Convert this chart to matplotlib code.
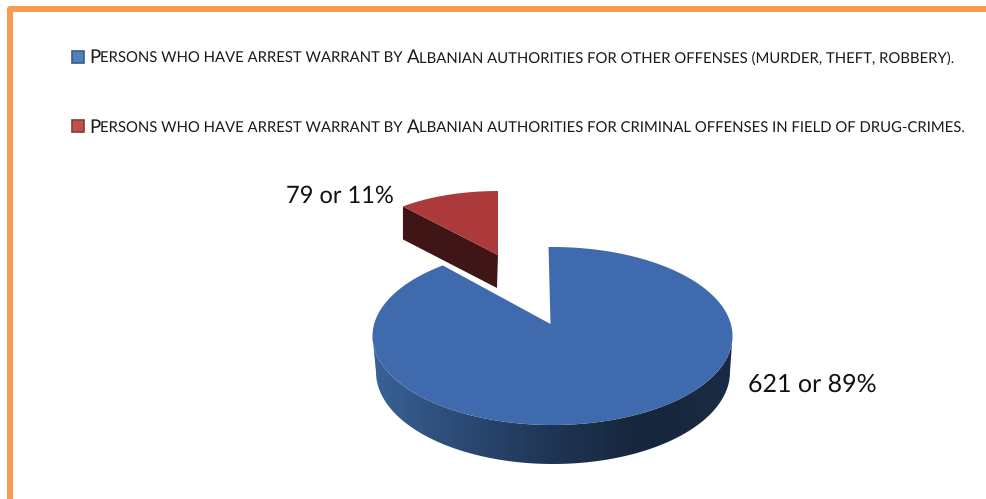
import numpy as np
import matplotlib
matplotlib.use('Agg')
import matplotlib.pyplot as plt
from matplotlib.colors import LinearSegmentedColormap
from matplotlib.patches import Polygon, Rectangle

# (text, is_big) runs fake the small caps of the legend
legend_blue = [('P', True), ('ERSONS WHO HAVE ARREST WARRANT BY ', False), ('A', True),
               ('LBANIAN AUTHORITIES FOR OTHER OFFENSES (MURDER, THEFT, ROBBERY).', False)]
legend_red = [('P', True), ('ERSONS WHO HAVE ARREST WARRANT BY ', False), ('A', True),
              ('LBANIAN AUTHORITIES FOR CRIMINAL OFFENSES IN FIELD OF DRUG-CRIMES.', False)]
values = [621, 79]
labels = ['621 or 89%', '79 or 11%']

plt.rcParams['font.family'] = ['Lato', 'DejaVu Sans']
plt.rcParams['text.hinting'] = 'none'

fig = plt.figure(figsize=(9.86, 4.99), dpi=100)
ax = fig.add_axes([0, 0, 1, 1])
ax.axis('off')

# angles clockwise from 12 o'clock
frac = np.array(values) / sum(values)
first = np.radians(-1.5)
blue_end = frac[0] * 2 * np.pi
blue_t = np.linspace(0, blue_end, 200) + first
blue_t = blue_t + np.radians(-4.6) * np.sin(2 * blue_t)  # 3d view bends the angles a bit
red_t = np.linspace(blue_end, 2 * np.pi, 40)


def arc(t, cx, cy, rx, ry):
    return np.column_stack([cx + rx * np.sin(t), cy - ry * np.cos(t)])


# blue side, gradient clipped to the band under the front edge
t_front = np.linspace(np.pi / 2, 3 * np.pi / 2, 120)
band = np.vstack([arc(t_front, 552.5, 336, 180, 89),
                  arc(t_front[::-1], 553, 372, 177, 92)])
side = Polygon(band, closed=True, fc='none', ec='none')
ax.add_patch(side)
cmap = LinearSegmentedColormap.from_list('side', ['#3a6296', '#2b4a75', '#1f3554', '#16263b', '#1a2c44'])
im = ax.imshow(np.linspace(0, 1, 256)[None, :], cmap=cmap, aspect='auto',
               extent=[372, 733, 480, 320], zorder=2)
im.set_clip_path(side)

# blue top face
top = np.vstack([[550.5, 324], arc(blue_t, 552.5, 336, 180, 89)])
ax.add_patch(Polygon(top, closed=True, fc='#3f6aad', ec='none', zorder=3))

# red slice, pulled out
red_cx, red_cy = 498, 255
red_edge = arc(red_t, red_cx, red_cy, 146, 64)
left_pt = red_edge[0]
cut = np.array([[red_cx, red_cy], left_pt, left_pt + [0, 33], [red_cx - 1, red_cy + 33]])
ax.add_patch(Polygon(cut, closed=True, fc='#3f1615', ec='none', zorder=3))
ax.add_patch(Polygon(np.vstack([[red_cx, red_cy], red_edge]), closed=True,
                     fc='#ad3a3a', ec='none', zorder=4))

ax.text(748, 385, labels[0], fontsize=18, color='#111111', va='center', ha='left', zorder=5)
ax.text(286, 196, labels[1], fontsize=17, color='#111111', va='center', ha='left', zorder=5)

# legend
fig.canvas.draw()
renderer = fig.canvas.get_renderer()


def small_caps(runs, x, y, big=13.4, small=10.7):
    for s, is_big in runs:
        t = ax.text(x, y, s.replace(' ', '\u00a0'), fontsize=big if is_big else small,
                    color='#1a1a1a', va='baseline', ha='left', zorder=5)
        x += t.get_window_extent(renderer).width
    return x


for swatch_y, base_y, runs, fc, ec in [(50, 63, legend_blue, '#4f81bd', '#385d8a'),
                                       (119, 133, legend_red, '#c0504d', '#8c3836')]:
    ax.add_patch(Rectangle((71.5, swatch_y + 1), 12, 12, fc=fc, ec=ec, lw=1.2, zorder=5))
    small_caps(runs, 89, base_y)

# orange frame
ax.plot([9.8, 9.8, 986], [499, 9, 9], color='#fa9a4f', lw=4.3, solid_capstyle='butt',
        solid_joinstyle='round', zorder=6)

ax.set_xlim(0, 986)
ax.set_ylim(499, 0)
fig.savefig('out.png', dpi=100)
